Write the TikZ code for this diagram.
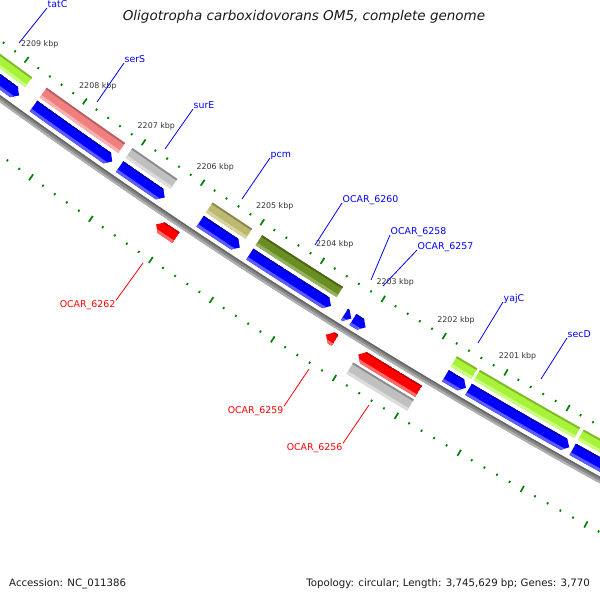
\documentclass[tikz,border=0pt]{standalone}
\usepackage{fontspec}
\setmainfont{DejaVu Sans}
\definecolor{gy}{HTML}{A8F23A}\definecolor{gydark}{HTML}{7FB82A}\definecolor{gylight}{HTML}{C8FF80}
\definecolor{sal}{HTML}{F08080}\definecolor{saldark}{HTML}{B86060}\definecolor{sallight}{HTML}{F8B0B0}
\definecolor{gr}{HTML}{C0C0C0}\definecolor{grdark}{HTML}{8C8C8C}\definecolor{grlight}{HTML}{DCDCDC}
\definecolor{kh}{HTML}{BDB872}\definecolor{khdark}{HTML}{8A8650}\definecolor{khlight}{HTML}{D8D4A0}
\definecolor{ol}{HTML}{6B8E23}\definecolor{oldark}{HTML}{4A6418}\definecolor{ollight}{HTML}{94B060}
\definecolor{bl}{HTML}{0000FF}\definecolor{bldark}{HTML}{0000B0}\definecolor{bllight}{HTML}{5C5CFF}
\definecolor{rd}{HTML}{FF0000}\definecolor{rddark}{HTML}{C00000}\definecolor{rdlight}{HTML}{FF6A6A}
\definecolor{bb}{HTML}{888888}\definecolor{bbdark}{HTML}{666666}\definecolor{bblight}{HTML}{B0B0B0}
\definecolor{tickg}{HTML}{008000}
\definecolor{kbpc}{HTML}{333333}
\definecolor{labblue}{HTML}{0000FF}
\definecolor{labred}{HTML}{FF0000}
\definecolor{titlec}{HTML}{1A1A1A}
% band between angles #1,#2 and radii #3,#4 (pt), style #5
\newcommand\arcband[5]{\fill[#5] (#1:#3pt) arc[start angle=#1,end angle=#2,radius=#3pt] -- (#2:#4pt) arc[start angle=#2,end angle=#1,radius=#4pt] -- cycle;}
% shaded COG bar
\newcommand\cog[5]{%
  \pgfmathsetmacro\myRa{#3+1.8}\pgfmathsetmacro\myRb{#4-3}%
  \arcband{#1}{#2}{#3}{#4}{#5}%
  \arcband{#1}{#2}{#3}{\myRa}{#5dark}%
  \arcband{#1}{#2}{\myRb}{#4}{#5light}}
% CDS arrow: #5 = 1 tip at #2, -1 tip at #1
\newcommand\cds[6]{%
  \pgfmathsetmacro\myLen{#2-#1}%
  \pgfmathsetmacro\myH{min(0.062,\myLen)}%
  \pgfmathsetmacro\myRm{(#3+#4)/2}%
  \pgfmathsetmacro\myRa{#3+1.5}\pgfmathsetmacro\myRb{#4-3}%
  \begin{scope}
  \ifnum#5>0
    \pgfmathsetmacro\myTb{#2-\myH}%
    \clip (#1:#3pt) arc[start angle=#1,end angle=\myTb,radius=#3pt] -- (#2:\myRm pt) -- (\myTb:#4pt) arc[start angle=\myTb,end angle=#1,radius=#4pt] -- cycle;
  \else
    \pgfmathsetmacro\myTb{#1+\myH}%
    \clip (#1:\myRm pt) -- (\myTb:#3pt) arc[start angle=\myTb,end angle=#2,radius=#3pt] -- (#2:#4pt) arc[start angle=#2,end angle=\myTb,radius=#4pt] -- cycle;
  \fi
  \arcband{#1}{#2}{#3}{#4}{#6}%
  \arcband{#1}{#2}{#3}{\myRa}{#6dark}%
  \arcband{#1}{#2}{\myRb}{#4}{#6light}%
  \end{scope}}
\begin{document}
\begin{tikzpicture}[x=1pt,y=1pt,
  tickmark/.style={draw=tickg, line width=1.7pt},
  kbp/.style={font=\fontsize{7.9}{9}\selectfont, text=kbpc, inner sep=0pt},
  glb/.style={font=\fontsize{9.4}{11}\selectfont, text=labblue, inner sep=0.5pt, anchor=base west},
  glr/.style={font=\fontsize{9.4}{11}\selectfont, text=labred, inner sep=0.5pt, anchor=base east},
  lnb/.style={draw=labblue, line width=0.8pt},
  lnr/.style={draw=labred, line width=0.8pt},
  foot/.style={font=\fontsize{10.2}{12}\selectfont, text=titlec, inner sep=0pt}]
\useasboundingbox (0,0) rectangle (600,600);
\fill[white] (0,0) rectangle (600,600);
\begin{scope}
\clip (0,0) rectangle (600,600);
\begin{scope}[shift={(3354pt,5115pt)}]
  % backbone
  \arcband{231}{244}{5701}{5707}{bb}
  \arcband{231}{244}{5701}{5702.5}{bbdark}
  \arcband{231}{244}{5705}{5707}{bblight}
  % ticks
  \foreach \i in {0,...,75}{
    \pgfmathsetmacro\tA{233.245+0.145*\i}
    \pgfmathtruncatemacro\mm{mod(\i,5)}
    \ifnum\mm=0
      \draw[tickmark] (\tA:5653.5pt) -- (\tA:5660.5pt) (\tA:5746.5pt) -- (\tA:5753.5pt);
    \else
      \draw[tickmark] (\tA:5655.9pt) -- (\tA:5658.1pt) (\tA:5748.9pt) -- (\tA:5751.1pt);
    \fi}
  % kbp labels
  \foreach \p in {2201,...,2209}{
    \pgfmathsetmacro\tA{233.97+0.725*(2209-\p)}
    \node[kbp] (k\p) at ([xshift=2pt]\tA:5638pt) {\p\ kbp};}
  % reverse strand genes
  \cog{231.5}{234.12}{5668}{5680}{gy}
  \cds{231.5}{234.12}{5684}{5697}{1}{bl}
  \cog{234.30}{235.27}{5668}{5680}{sal}
  \cds{234.30}{235.27}{5684}{5697}{1}{bl}
  \cog{235.36}{235.91}{5668}{5680}{gr}
  \cds{235.36}{235.91}{5684}{5697}{1}{bl}
  \cog{236.34}{236.82}{5668}{5680}{kh}
  \cds{236.34}{236.82}{5684}{5697}{1}{bl}
  \cog{236.94}{237.91}{5668}{5680}{ol}
  \cds{236.94}{237.91}{5684}{5697}{1}{bl}
  \cds{238.07}{238.15}{5684}{5697}{1}{bl}
  \cds{238.17}{238.32}{5684}{5697}{1}{bl}
  \cog{239.26}{239.50}{5668}{5680}{gy}
  \cds{239.26}{239.50}{5684}{5697}{1}{bl}
  \cog{239.53}{240.70}{5668}{5680}{gy}
  \cds{239.53}{240.70}{5684}{5697}{1}{bl}
  \cog{240.74}{244}{5668}{5680}{gy}
  \cds{240.74}{244}{5684}{5697}{1}{bl}
  % forward strand genes
  \cds{235.99}{236.23}{5711}{5724}{-1}{rd}
  \cds{238.02}{238.13}{5711}{5724}{-1}{rd}
  \cds{238.40}{239.11}{5711}{5724}{-1}{rd}
  \cog{238.40}{239.11}{5727}{5740}{gr}
\end{scope}
\end{scope}
% gene labels
\node[glb] (ltatC) at (47,592) {tatC};
\coordinate (ptatC) at (19,557);
\draw[lnb] (ltatC.base west) -- (ptatC);
\node[glb] (lserS) at (124,537) {serS};
\coordinate (pserS) at (97,498);
\draw[lnb] (lserS.base west) -- (pserS);
\node[glb] (lsurE) at (193,491) {surE};
\coordinate (psurE) at (165,451);
\draw[lnb] (lsurE.base west) -- (psurE);
\node[glb] (lpcm) at (270,442) {pcm};
\coordinate (ppcm) at (242,401);
\draw[lnb] (lpcm.base west) -- (ppcm);
\node[glb] (l6260) at (342,397) {OCAR\_6260};
\coordinate (p6260) at (315,355);
\draw[lnb] (l6260.base west) -- (p6260);
\node[glb] (l6258) at (390,365) {OCAR\_6258};
\coordinate (p6258) at (371,320);
\draw[lnb] (l6258.base west) -- (p6258);
\node[glb] (l6257) at (417,350) {OCAR\_6257};
\coordinate (p6257) at (383,314);
\draw[lnb] (l6257.base west) -- (p6257);
\node[glb] (lyajC) at (503,298) {yajC};
\coordinate (pyajC) at (478,257);
\draw[lnb] (lyajC.base west) -- (pyajC);
\node[glb] (lsecD) at (567,262) {secD};
\coordinate (psecD) at (541,221);
\draw[lnb] (lsecD.base west) -- (psecD);
\node[glr] (l6262) at (116,292) {OCAR\_6262};
\coordinate (p6262) at (143,337);
\draw[lnr] (l6262.north east) -- (p6262);
\node[glr] (l6259) at (284,186) {OCAR\_6259};
\coordinate (p6259) at (309,231);
\draw[lnr] (l6259.north east) -- (p6259);
\node[glr] (l6256) at (343,149) {OCAR\_6256};
\coordinate (p6256) at (369,195);
\draw[lnr] (l6256.north east) -- (p6256);
% title and footer
\node[font=\fontsize{13.5}{15}\selectfont\itshape, text=titlec, anchor=base, inner sep=0pt] (title) at (304,579) {Oligotropha carboxidovorans OM5, complete genome};
\node[foot, anchor=base west] (acc) at (9,13) {Accession: NC\_011386};
\node[foot, anchor=base east] (topo) at (590,13) {Topology: circular; Length: 3,745,629 bp; Genes: 3,770};
\end{tikzpicture}
\end{document}
